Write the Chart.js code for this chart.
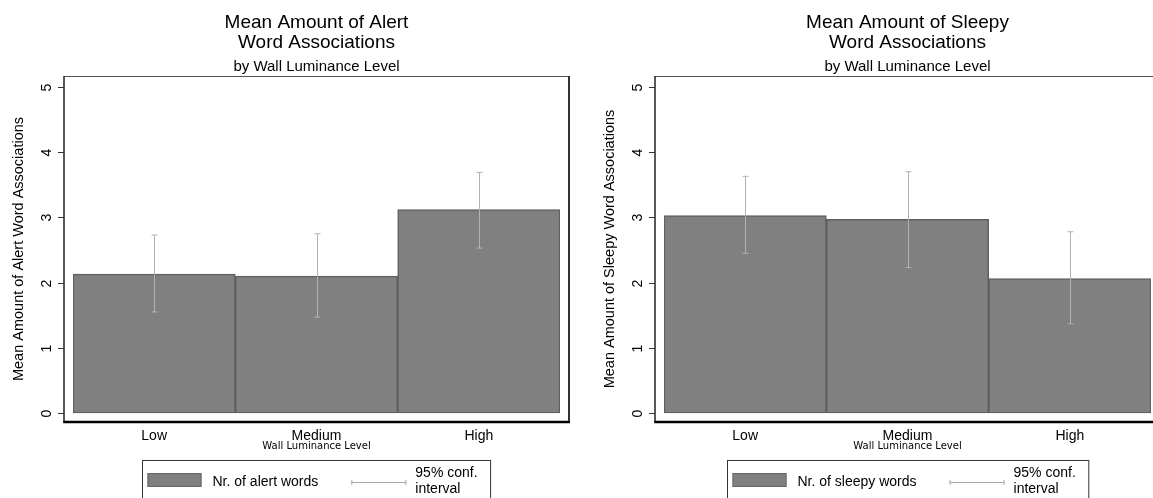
<!DOCTYPE html>
<html>
<head>
<meta charset="utf-8">
<script src="https://cdn.jsdelivr.net/npm/chart.js@4.4.1/dist/chart.umd.min.js"></script>
<style>
  body { margin: 0; background: #fff; overflow: hidden; width: 1153px; height: 498px; position: relative; }
  canvas { position: absolute; top: 0; }
</style>
</head>
<body>
<canvas id="alertChart" width="591" height="498" style="left:0"></canvas>
<canvas id="sleepyChart" width="591" height="498" style="left:591px"></canvas>
<script>
const categories = ['Low', 'Medium', 'High'];
const yTicks = [0, 1, 2, 3, 4, 5];

const alertMeans = [2.13, 2.10, 3.12];
const alertCiLow = [1.55, 1.47, 2.53];
const alertCiHigh = [2.73, 2.75, 3.69];

const sleepyMeans = [3.03, 2.97, 2.06];
const sleepyCiLow = [2.45, 2.23, 1.37];
const sleepyCiHigh = [3.63, 3.70, 2.78];

const FONT = "'Liberation Sans', Arial, sans-serif";

function makeChart(canvasId, titleLine1, yTitle, legendLabel, means, ciLow, ciHigh) {

    // error bars, frame, rotated y labels, titles and legend
    const extras = {
        id: 'extras',
        afterDatasetsDraw(chart) {
            const ctx = chart.ctx;
            const xs = chart.scales.x;
            const ys = chart.scales.y;
            const area = chart.chartArea;
            const boxL = area.left - 9, boxR = area.right + 9;
            const boxT = area.top, boxB = area.bottom;
            const mid = (boxL + boxR) / 2;
            ctx.save();

            // 95% CI
            ctx.strokeStyle = '#b2b2b2';
            ctx.lineWidth = 1;
            means.forEach((m, i) => {
                const px = Math.round(xs.getPixelForValue(i)) + 0.5;
                const top = ys.getPixelForValue(ciHigh[i]);
                const bot = ys.getPixelForValue(ciLow[i]);
                ctx.beginPath();
                ctx.moveTo(px, top); ctx.lineTo(px, bot);
                ctx.moveTo(px - 3, top); ctx.lineTo(px + 3, top);
                ctx.moveTo(px - 3, bot); ctx.lineTo(px + 3, bot);
                ctx.stroke();
            });

            // plot frame
            ctx.strokeStyle = '#555';
            ctx.lineWidth = 1;
            ctx.beginPath(); ctx.moveTo(boxL, boxT + 0.5); ctx.lineTo(boxR, boxT + 0.5); ctx.stroke();
            ctx.strokeStyle = '#333';
            ctx.lineWidth = 2;
            ctx.beginPath(); ctx.moveTo(boxR, boxT); ctx.lineTo(boxR, boxB); ctx.stroke();
            ctx.strokeStyle = '#222';
            ctx.lineWidth = 1.5;
            ctx.beginPath(); ctx.moveTo(boxL, boxT); ctx.lineTo(boxL, boxB); ctx.stroke();
            ctx.strokeStyle = '#000';
            ctx.lineWidth = 2.5;
            ctx.beginPath(); ctx.moveTo(boxL - 0.75, boxB); ctx.lineTo(boxR + 1, boxB); ctx.stroke();

            // y ticks + rotated labels
            ctx.strokeStyle = '#333';
            ctx.lineWidth = 1;
            ctx.fillStyle = '#000';
            ctx.font = '14px ' + FONT;
            ctx.textAlign = 'center';
            ctx.textBaseline = 'middle';
            yTicks.forEach(v => {
                const py = Math.round(ys.getPixelForValue(v)) + 0.5;
                ctx.beginPath(); ctx.moveTo(boxL - 6, py); ctx.lineTo(boxL, py); ctx.stroke();
                ctx.save();
                ctx.translate(boxL - 17, py);
                ctx.rotate(-Math.PI / 2);
                ctx.fillText(String(v), 0, 0);
                ctx.restore();
            });

            // titles
            ctx.font = '19px ' + FONT;
            ctx.fillText(titleLine1, mid, 23);
            ctx.fillText('Word Associations', mid, 43);
            ctx.font = '15px ' + FONT;
            ctx.fillText('by Wall Luminance Level', mid, 67);

            // legend
            ctx.font = '14px ' + FONT;
            const w1 = ctx.measureText(legendLabel).width;
            const w2 = ctx.measureText('95% conf.').width;
            const legW = 5 + 54 + 11 + w1 + 33 + 55 + 9 + w2 + 13;
            const lx = Math.round(mid - legW / 2) + 0.5;
            const ly = 460.5;
            ctx.strokeStyle = '#333';
            ctx.strokeRect(lx, ly, legW, 60);
            let cx = lx + 5;
            ctx.fillStyle = '#808080';
            ctx.fillRect(cx, 473, 54, 14);
            ctx.strokeStyle = '#666';
            ctx.strokeRect(cx + 0.5, 473.5, 53, 13);
            cx += 54 + 11;
            ctx.fillStyle = '#000';
            ctx.textAlign = 'left';
            ctx.fillText(legendLabel, cx, 482);
            cx += w1 + 33;
            ctx.strokeStyle = '#a8a8a8';
            ctx.beginPath();
            ctx.moveTo(cx, 482.5); ctx.lineTo(cx + 55, 482.5);
            ctx.moveTo(cx + 0.5, 480); ctx.lineTo(cx + 0.5, 485);
            ctx.moveTo(cx + 54.5, 480); ctx.lineTo(cx + 54.5, 485);
            ctx.stroke();
            cx += 55 + 9;
            ctx.fillText('95% conf.', cx, 473);
            ctx.fillText('interval', cx, 489);

            ctx.restore();
        }
    };

    return new Chart(document.getElementById(canvasId), {
        type: 'bar',
        data: {
            labels: categories,
            datasets: [{
                data: means,
                backgroundColor: '#808080',
                borderColor: '#606060',
                borderWidth: 1.5,
                borderSkipped: false,
                barPercentage: 1,
                categoryPercentage: 1
            }]
        },
        options: {
            responsive: false,
            animation: false,
            devicePixelRatio: 1,
            layout: { padding: { top: 76, right: 31, left: 0, bottom: 0 } },
            plugins: {
                legend: { display: false },
                tooltip: { enabled: false }
            },
            scales: {
                x: {
                    offset: true,
                    grid: { display: false },
                    border: { display: false },
                    ticks: { color: '#000', font: { family: FONT, size: 14 }, padding: -2 },
                    title: {
                        display: true,
                        text: 'Wall Luminance Level',
                        color: '#000',
                        font: { family: "'DejaVu Sans', sans-serif", size: 10 },
                        padding: { top: 0, bottom: 46 }
                    },
                    afterFit(scale) { scale.height = 76; }
                },
                y: {
                    min: -0.138,
                    max: 5.169,
                    grid: { display: false },
                    border: { display: false },
                    ticks: { display: false },
                    title: {
                        display: true,
                        text: yTitle,
                        color: '#000',
                        font: { family: FONT, size: 14.5 },
                        padding: { top: 10, bottom: 0 }
                    },
                    afterFit(scale) { scale.width = 73; }
                }
            }
        },
        plugins: [extras]
    });
}

makeChart('alertChart', 'Mean Amount of Alert', 'Mean Amount of Alert Word Associations',
    'Nr. of alert words', alertMeans, alertCiLow, alertCiHigh);
makeChart('sleepyChart', 'Mean Amount of Sleepy', 'Mean Amount of Sleepy Word Associations',
    'Nr. of sleepy words', sleepyMeans, sleepyCiLow, sleepyCiHigh);
</script>
</body>
</html>
